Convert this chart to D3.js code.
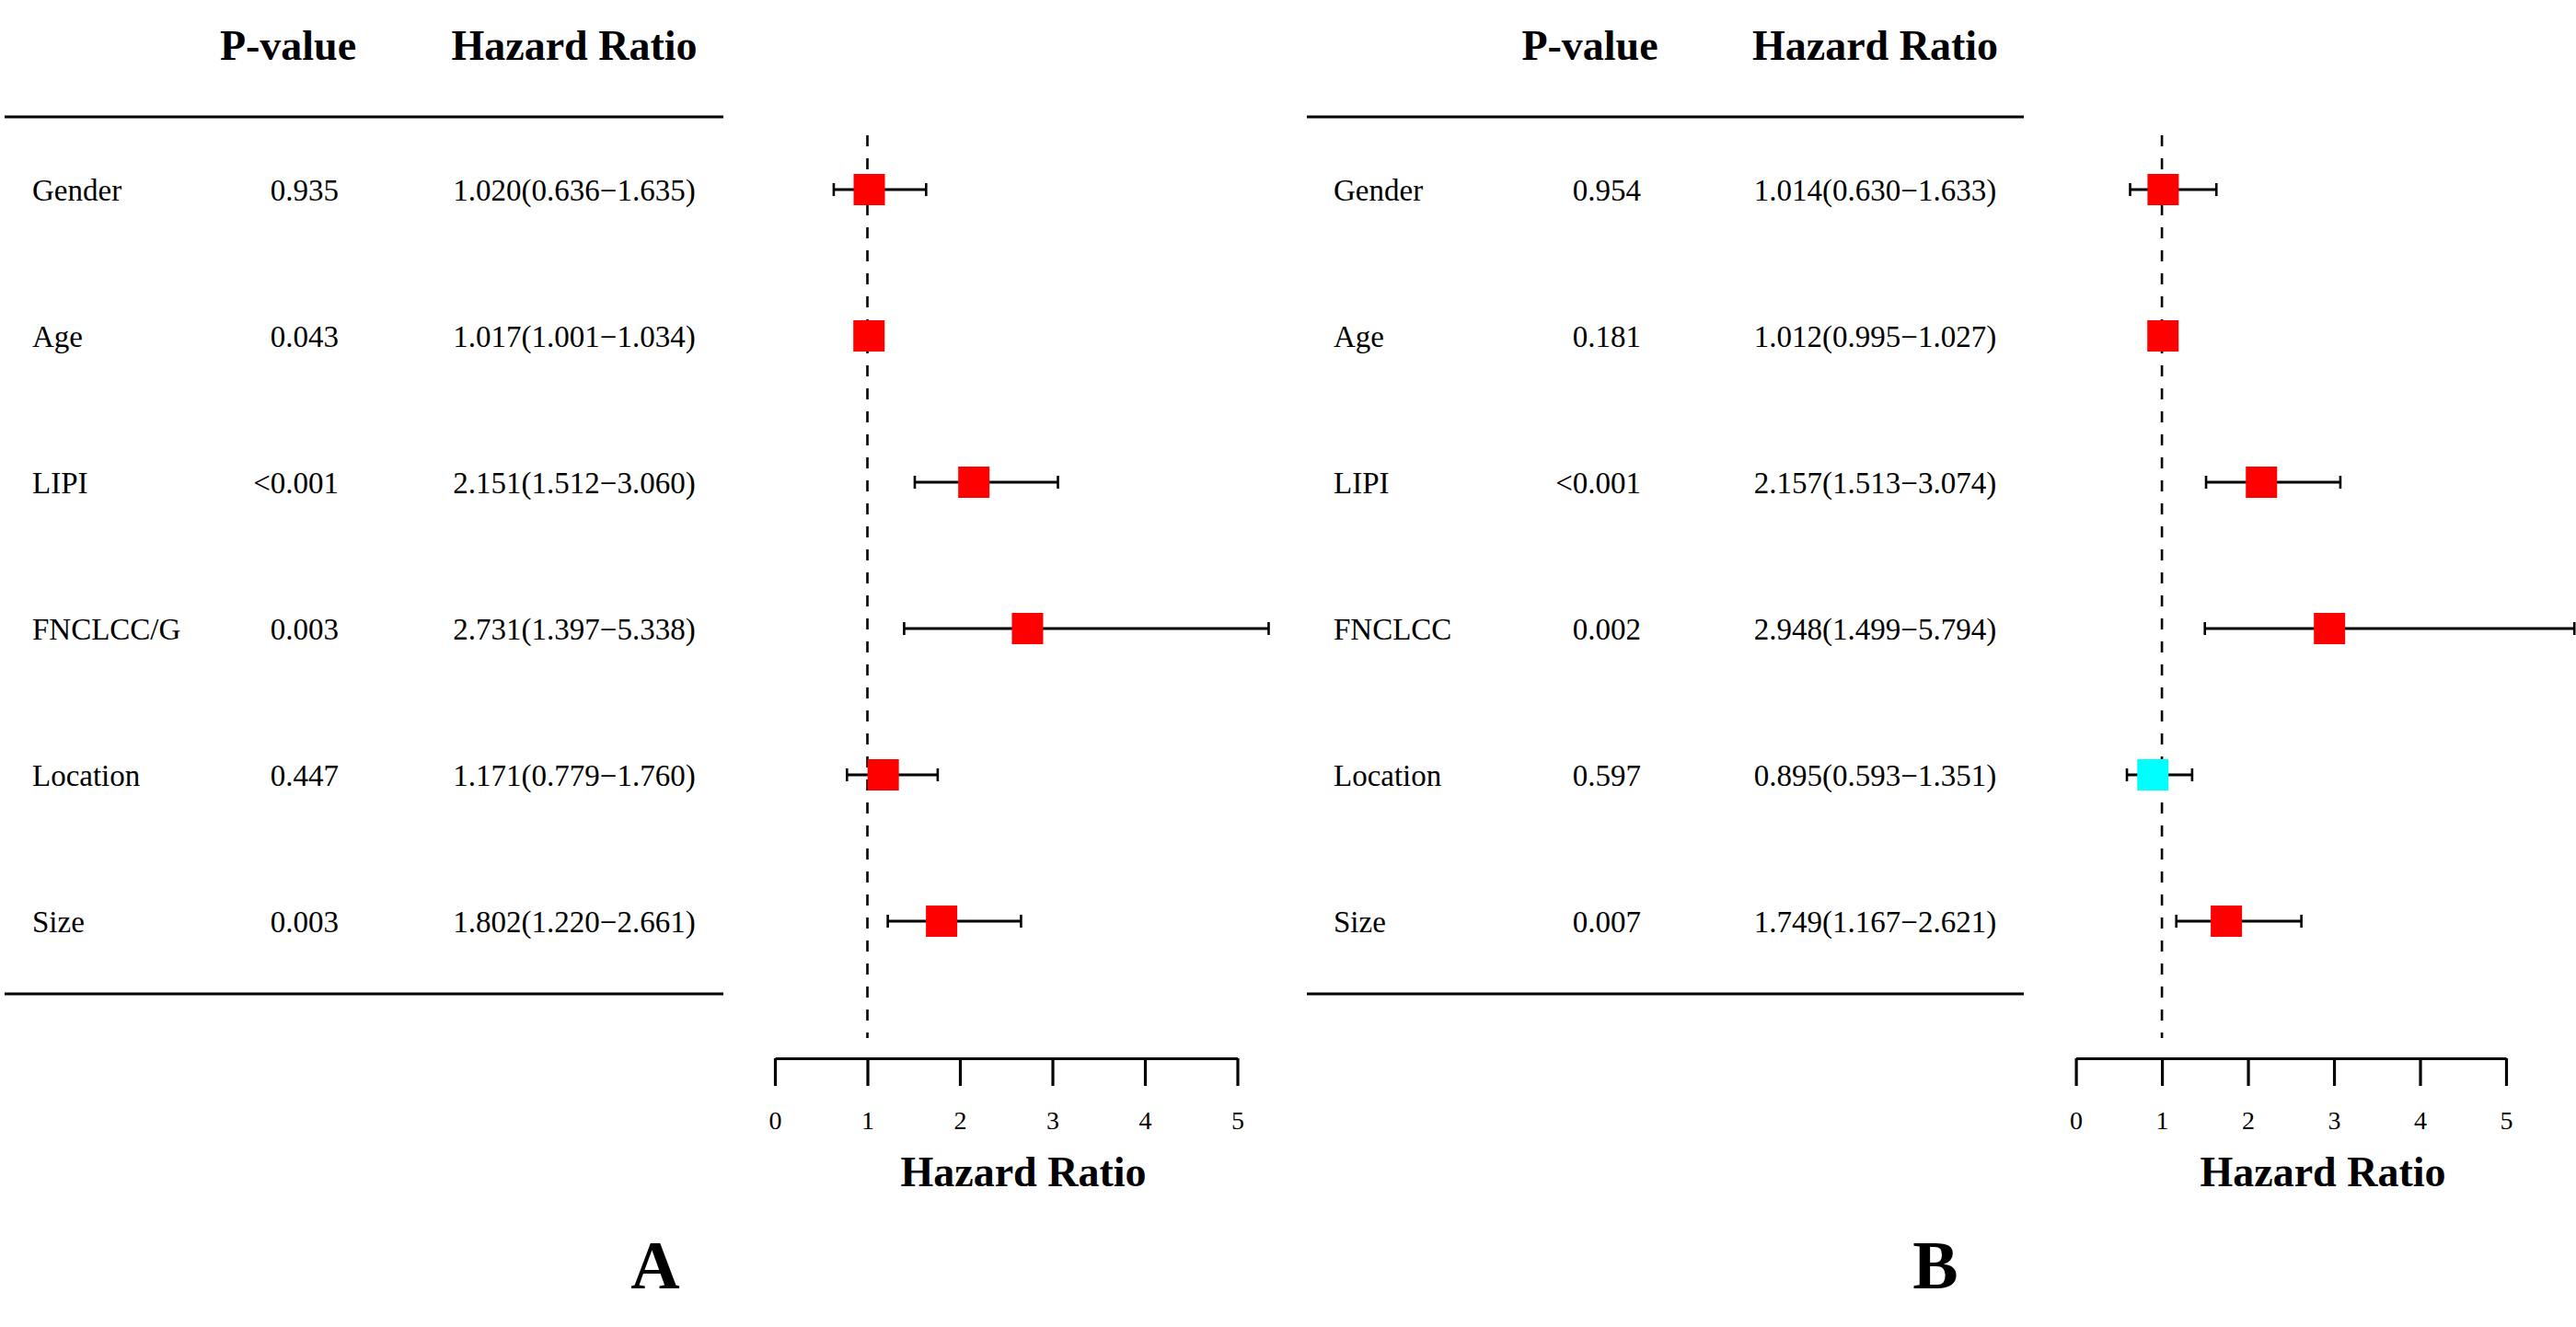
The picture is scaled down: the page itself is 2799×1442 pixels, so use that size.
<!DOCTYPE html>
<html>
<head>
<meta charset="utf-8">
<script src="https://cdn.jsdelivr.net/npm/d3@7"></script>
<style>
  html, body { margin: 0; padding: 0; background: #ffffff; }
  svg { display: block; }
  text { font-family: "Liberation Serif", "Times New Roman", Times, serif; fill: #000; }
</style>
</head>
<body>
<svg id="chart" width="2799" height="1442"></svg>
<script>
// ---------------- data ----------------
const variablesA = ["Gender", "Age", "LIPI", "FNCLCC/G", "Location", "Size"];
const pValuesA   = ["0.935", "0.043", "<0.001", "0.003", "0.447", "0.003"];
const hrA        = [1.020, 1.017, 2.151, 2.731, 1.171, 1.802];
const lowerA     = [0.636, 1.001, 1.512, 1.397, 0.779, 1.220];
const upperA     = [1.635, 1.034, 3.060, 5.338, 1.760, 2.661];

const variablesB = ["Gender", "Age", "LIPI", "FNCLCC", "Location", "Size"];
const pValuesB   = ["0.954", "0.181", "<0.001", "0.002", "0.597", "0.007"];
const hrB        = [1.014, 1.012, 2.157, 2.948, 0.895, 1.749];
const lowerB     = [0.630, 0.995, 1.513, 1.499, 0.593, 1.167];
const upperB     = [1.633, 1.027, 3.074, 5.794, 1.351, 2.621];

const axisTicks  = [0, 1, 2, 3, 4, 5];
const headerP    = "P-value";
const headerHR   = "Hazard Ratio";
const axisTitle  = "Hazard Ratio";
const panelLabels = ["A", "B"];

// ---------------- layout ----------------
const svg = d3.select("#chart");

const panels = [
  {
    vars: variablesA, p: pValuesA, hr: hrA, lo: lowerA, hi: upperA, label: panelLabels[0],
    labelX: 35, pRight: 368, hrCenter: 624, pHeaderCenter: 313,
    ruleX0: 5, ruleX1: 786,
    xRange: [842, 1344.5], titleX: 1112, panelX: 712
  },
  {
    vars: variablesB, p: pValuesB, hr: hrB, lo: lowerB, hi: upperB, label: panelLabels[1],
    labelX: 1449, pRight: 1783, hrCenter: 2037.5, pHeaderCenter: 1727.5,
    ruleX0: 1420, ruleX1: 2199,
    xRange: [2255.6, 2723], titleX: 2524, panelX: 2103
  }
];

const headerBaseline = 65;
const ruleTopY = 127, ruleBottomY = 1080;
const rowFirst = 206, rowLast = 1001;
const axisY = 1150;
const boxSize = 34;
const capH = 14;

function fmt(v) { return v.toFixed(3); }

panels.forEach(P => {
  const g = svg.append("g");
  const x = d3.scaleLinear().domain([0, 5]).range(P.xRange);
  const y = d3.scalePoint().domain(P.vars).range([rowFirst, rowLast]).padding(0);

  // headers
  g.append("text")
    .attr("x", P.pHeaderCenter).attr("y", headerBaseline)
    .attr("text-anchor", "middle")
    .style("font-size", "46px").style("font-weight", "bold")
    .text(headerP);
  g.append("text")
    .attr("x", P.hrCenter).attr("y", headerBaseline)
    .attr("text-anchor", "middle")
    .style("font-size", "46px").style("font-weight", "bold")
    .text(headerHR);

  // table rules
  [ruleTopY, ruleBottomY].forEach(yy => {
    g.append("line")
      .attr("x1", P.ruleX0).attr("x2", P.ruleX1)
      .attr("y1", yy).attr("y2", yy)
      .attr("stroke", "#000").attr("stroke-width", 3);
  });

  // table rows
  const rows = P.vars.map((v, i) => ({
    name: v, p: P.p[i], hr: P.hr[i], lo: P.lo[i], hi: P.hi[i]
  }));

  g.selectAll("text.var").data(rows).join("text")
    .attr("class", "var")
    .attr("x", P.labelX).attr("y", d => y(d.name) + 11.5)
    .style("font-size", "33px")
    .text(d => d.name);

  g.selectAll("text.pval").data(rows).join("text")
    .attr("class", "pval")
    .attr("x", P.pRight).attr("y", d => y(d.name) + 11.5)
    .attr("text-anchor", "end")
    .style("font-size", "33px")
    .text(d => d.p);

  g.selectAll("text.hrtxt").data(rows).join("text")
    .attr("class", "hrtxt")
    .attr("x", P.hrCenter).attr("y", d => y(d.name) + 11.5)
    .attr("text-anchor", "middle")
    .style("font-size", "33px")
    .text(d => fmt(d.hr) + "(" + fmt(d.lo) + "\u2212" + fmt(d.hi) + ")");

  // reference dashed line at HR = 1
  g.append("line")
    .attr("x1", x(1)).attr("x2", x(1))
    .attr("y1", 147).attr("y2", 1128)
    .attr("stroke", "#000").attr("stroke-width", 2.6)
    .attr("stroke-dasharray", "12,13");

  // CI lines
  g.selectAll("line.ci").data(rows).join("line")
    .attr("class", "ci")
    .attr("x1", d => x(d.lo)).attr("x2", d => x(d.hi))
    .attr("y1", d => y(d.name)).attr("y2", d => y(d.name))
    .attr("stroke", "#000").attr("stroke-width", 3);
  g.selectAll("line.capL").data(rows).join("line")
    .attr("class", "capL")
    .attr("x1", d => x(d.lo)).attr("x2", d => x(d.lo))
    .attr("y1", d => y(d.name) - capH / 2).attr("y2", d => y(d.name) + capH / 2)
    .attr("stroke", "#000").attr("stroke-width", 2.6);
  g.selectAll("line.capR").data(rows).join("line")
    .attr("class", "capR")
    .attr("x1", d => x(d.hi)).attr("x2", d => x(d.hi))
    .attr("y1", d => y(d.name) - capH / 2).attr("y2", d => y(d.name) + capH / 2)
    .attr("stroke", "#000").attr("stroke-width", 2.6);

  // boxes
  g.selectAll("rect.box").data(rows).join("rect")
    .attr("class", "box")
    .attr("x", d => x(d.hr) - boxSize / 2)
    .attr("y", d => y(d.name) - boxSize / 2)
    .attr("width", boxSize).attr("height", boxSize)
    .attr("fill", d => d.hr < 1 ? "#00FFFF" : "#FF0000");

  // axis
  const axis = d3.axisBottom(x)
    .tickValues(axisTicks)
    .tickFormat(d3.format("d"))
    .tickSize(30)
    .tickSizeOuter(0)
    .tickPadding(27);
  const ax = g.append("g")
    .attr("transform", `translate(0,${axisY})`)
    .call(axis);
  ax.select(".domain").attr("stroke", "#000").attr("stroke-width", 3.2);
  ax.selectAll(".tick line").attr("stroke", "#000").attr("stroke-width", 3.2);
  ax.selectAll(".tick text")
    .style("font-family", "'Liberation Serif', 'Times New Roman', serif")
    .style("font-size", "28px").attr("fill", "#000");

  // axis title
  g.append("text")
    .attr("x", P.titleX).attr("y", 1289)
    .attr("text-anchor", "middle")
    .style("font-size", "46px").style("font-weight", "bold")
    .text(axisTitle);

  // panel letter
  g.append("text")
    .attr("x", P.panelX).attr("y", 1400)
    .attr("text-anchor", "middle")
    .style("font-size", "74px").style("font-weight", "bold")
    .text(P.label);
});
</script>
</body>
</html>
